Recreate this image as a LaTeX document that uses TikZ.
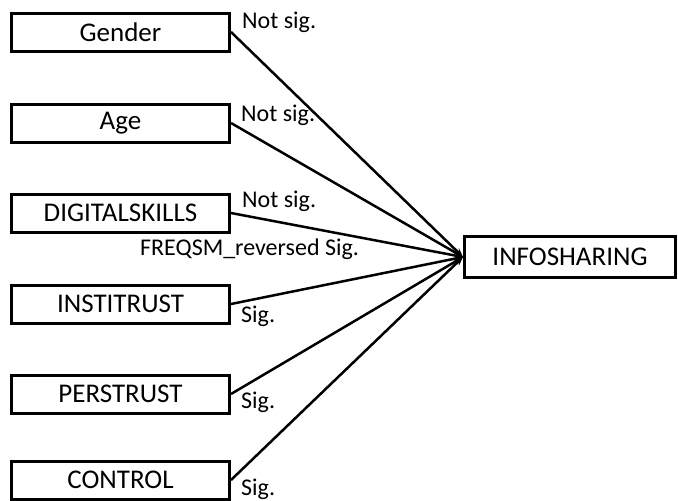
\documentclass[tikz,border=0pt]{standalone}
\usepackage{fontspec}
\setmainfont{Carlito}
\usetikzlibrary{arrows.meta}
\begin{document}
\begin{tikzpicture}[x=1pt,y=-1pt,
  varbox/.style={draw=black,line width=3pt,minimum width=218pt,minimum height=38pt,
    inner sep=0pt,font=\fontsize{27}{31}\selectfont},
  outbox/.style={varbox,minimum width=211pt,minimum height=41pt},
  path/.style={line width=2.5pt,-{Stealth[length=9pt,width=7pt]}},
  sig/.style={anchor=base west,inner sep=0pt,font=\fontsize{24}{28}\selectfont}]
\useasboundingbox (0,0) rectangle (678,501);

% predictors
\node[varbox] (gender)  at (120.5,32)  {Gender};
\node[varbox] (age)     at (120.5,123) {Age};
\node[varbox] (digital) at (120.5,213) {DIGITALSKILLS};
\node[varbox] (insti)   at (120.5,304) {INSTITRUST};
\node[varbox] (pers)    at (120.5,394) {PERSTRUST};
\node[varbox] (control) at (120.5,480) {CONTROL};

% outcome
\node[outbox] (info) at (570,257) {INFOSHARING};

% paths
\draw[path] (gender.east)  -- (info.west);
\draw[path] (age.east)     -- (info.west);
\draw[path] (digital.east) -- (info.west);
\draw[path] (insti.east)   -- (info.west);
\draw[path] (pers.east)    -- (info.west);
\draw[path] (control.east) -- (info.west);

% significance labels
\node[sig] (l1) at (242,28)  {Not sig.};
\node[sig] (l2) at (241,121) {Not sig.};
\node[sig] (l3) at (242,207) {Not sig.};
\node[sig] (l4) at (140,255) {FREQSM\_reversed Sig.};
\node[sig] (l5) at (241,322) {Sig.};
\node[sig] (l6) at (241,408) {Sig.};
\node[sig] (l7) at (241,495) {Sig.};
\end{tikzpicture}
\end{document}
